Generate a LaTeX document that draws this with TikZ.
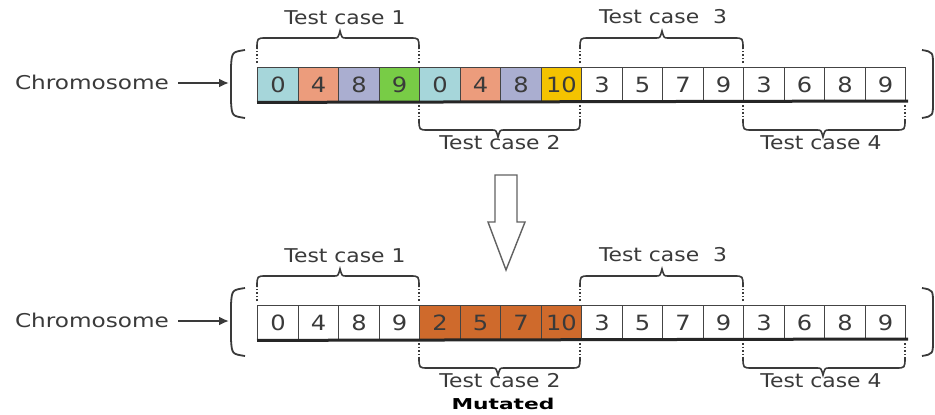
\documentclass[tikz,border=0pt]{standalone}
\usepackage{fontspec}
\setmainfont{DejaVu Sans}
\usetikzlibrary{arrows.meta}
\definecolor{txt}{HTML}{3A3A3A}
\definecolor{cblue}{HTML}{A6D6DA}
\definecolor{csalmon}{HTML}{EC9C7C}
\definecolor{clav}{HTML}{AAAED0}
\definecolor{cgreen}{HTML}{78CC46}
\definecolor{cgold}{HTML}{F4C300}
\definecolor{corange}{HTML}{CF6A2C}
\definecolor{cellline}{HTML}{444444}
\newcommand{\sxw}[1]{\scalebox{1.15}[1]{#1}}
\newcommand{\tcbrace}[5]{%
  \draw[dotted, line width=1.6pt, txt] ({#1},{#4+(#5)*4}) -- ({#1},{#4+(#5)*18});
  \draw[dotted, line width=1.6pt, txt] ({#2},{#4+(#5)*4}) -- ({#2},{#4+(#5)*18});
  \draw[line width=1.6pt, txt] ({#1},{#4+(#5)*18}) .. controls ({#1},{#4+(#5)*29}) .. ({#1+9},{#4+(#5)*29})
    -- ({#3-6},{#4+(#5)*29}) .. controls ({#3-2},{#4+(#5)*29}) .. ({#3},{#4+(#5)*36})
    .. controls ({#3+2},{#4+(#5)*29}) .. ({#3+6},{#4+(#5)*29})
    -- ({#2-9},{#4+(#5)*29}) .. controls ({#2},{#4+(#5)*29}) .. ({#2},{#4+(#5)*18});
}
\begin{document}
\begin{tikzpicture}[x=1pt,y=-1pt,
  cell/.style={draw=cellline, line width=1.4pt, minimum width=40.5pt, minimum height=34pt,
    inner sep=0pt, anchor=north west, font=\fontsize{21}{21}\selectfont, text=txt},
  lbl/.style={font=\fontsize{19}{20}\selectfont, text=txt, inner sep=0pt},
  paren/.style={line width=1.8pt, txt},
  chromarrow/.style={line width=2pt, txt, -{Latex[length=10pt,width=9pt]}}]
\useasboundingbox (0,0) rectangle (935,415);
\fill[white] (0,0) rectangle (935,415);

% ---------- top chromosome ----------
\foreach \v/\c [count=\i] in {0/cblue,4/csalmon,8/clav,9/cgreen,0/cblue,4/csalmon,8/clav,10/cgold,3/white,5/white,7/white,9/white,3/white,6/white,8/white,9/white}{
  \node[cell, fill=\c] (c\i) at ({257+40.5*(\i-1)},67) {\sxw{\v}};
}
\draw[line width=3pt, black!85] (c1.south west) -- (908,101);
\node[lbl] (chromA) at (92,82) {\scalebox{1.22}[1]{Chromosome}};
\coordinate (brA) at (229,83);
\coordinate (chA) at (178,83);
\draw[chromarrow] (chA) -- (brA);
\draw[paren] (245,50) .. controls (232,52) .. (231,66) -- (231,102) .. controls (232,116) .. (245,118);
\draw[paren] (922,50) .. controls (933,52) .. (933,66) -- (933,102) .. controls (933,116) .. (922,118);

\tcbrace{257}{419}{340}{67}{-1}
\tcbrace{580}{743}{662}{67}{-1}
\tcbrace{419}{580}{498}{101}{1}
\tcbrace{743}{905}{823}{101}{1}
\node[lbl] (t1a) at (345,18) {\sxw{Test case 1}};
\node[lbl] (t3a) at (663,17) {\sxw{Test case~~3}};
\node[lbl] (t2a) at (500,143) {\sxw{Test case 2}};
\node[lbl] (t4a) at (821,143) {\sxw{Test case 4}};

% ---------- arrow ----------
\draw[line width=1.4pt, txt!80, fill=white] (495,175) -- (517,175) -- (517,222) -- (525,222) -- (506,270) -- (488,222) -- (495,222) -- cycle;

% ---------- bottom chromosome ----------
\foreach \v/\c [count=\i] in {0/white,4/white,8/white,9/white,2/corange,5/corange,7/corange,10/corange,3/white,5/white,7/white,9/white,3/white,6/white,8/white,9/white}{
  \node[cell, fill=\c] (d\i) at ({257+40.5*(\i-1)},305) {\sxw{\v}};
}
\draw[line width=3pt, black!85] (d1.south west) -- (908,339);
\node[lbl] (chromB) at (92,320) {\scalebox{1.22}[1]{Chromosome}};
\coordinate (brB) at (229,321);
\coordinate (chB) at (178,321);
\draw[chromarrow] (chB) -- (brB);
\draw[paren] (245,288) .. controls (232,290) .. (231,304) -- (231,340) .. controls (232,354) .. (245,356);
\draw[paren] (922,288) .. controls (933,290) .. (933,304) -- (933,340) .. controls (933,354) .. (922,356);

\tcbrace{257}{419}{340}{305}{-1}
\tcbrace{580}{743}{662}{305}{-1}
\tcbrace{419}{580}{498}{339}{1}
\tcbrace{743}{905}{823}{339}{1}
\node[lbl] (t1b) at (345,256) {\sxw{Test case 1}};
\node[lbl] (t3b) at (663,255) {\sxw{Test case~~3}};
\node[lbl] (t2b) at (500,381) {\sxw{Test case 2}};
\node[lbl] (t4b) at (821,381) {\sxw{Test case 4}};
\node[font=\fontsize{15}{15}\selectfont\bfseries, text=black, inner sep=0pt] (mut) at (503,404) {\scalebox{1.45}[1]{Mutated}};
\end{tikzpicture}
\end{document}
